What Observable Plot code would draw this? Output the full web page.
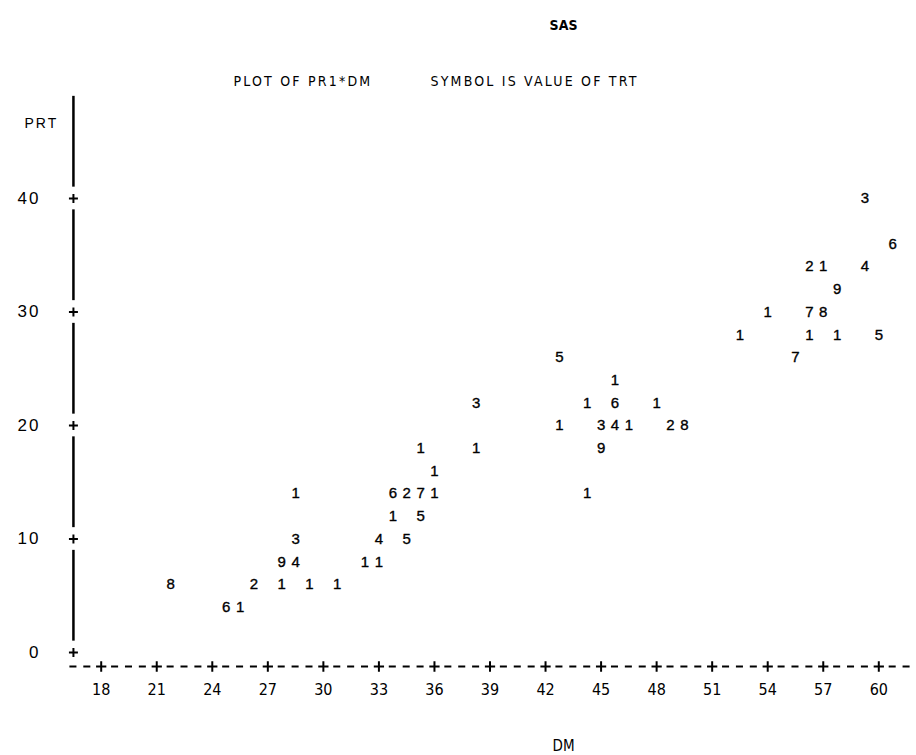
<!DOCTYPE html>
<html>
<head>
<meta charset="utf-8">
<script src="https://cdn.jsdelivr.net/npm/d3@7"></script>
<script src="https://cdn.jsdelivr.net/npm/@observablehq/plot@0.6"></script>
<style>
  html, body { margin: 0; padding: 0; background: #fff; }
  #chart { width: 916px; height: 755px; }
  .spaced text { letter-spacing: 2.2px; }
  .ylabels text { letter-spacing: 2px; }
</style>
</head>
<body>
<div id="chart"></div>
<script>
// Line-printer style plot of PRT against DM; each symbol is the TRT value.
const dm  = [59.25, 60.75, 56.25, 57.0, 59.25, 57.75, 54.0, 56.25, 57.0,
             52.5, 56.25, 57.75, 60.0, 55.5, 42.75, 45.75,
             38.25, 44.25, 45.75, 48.0,
             42.75, 45.0, 45.75, 46.5, 48.75, 49.5,
             35.25, 38.25, 45.0, 36.0,
             28.5, 33.75, 34.5, 35.25, 36.0, 44.25,
             33.75, 35.25, 28.5, 33.0, 34.5,
             27.75, 28.5, 32.25, 33.0,
             21.75, 26.25, 27.75, 29.25, 30.75, 24.75, 25.5];
const prt = [40, 36, 34, 34, 34, 32, 30, 30, 30,
             28, 28, 28, 28, 26, 26, 24,
             22, 22, 22, 22,
             20, 20, 20, 20, 20, 20,
             18, 18, 18, 16,
             14, 14, 14, 14, 14, 14,
             12, 12, 10, 10, 10,
             8, 8, 8, 8,
             6, 6, 6, 6, 6, 4, 4];
const trt = [3, 6, 2, 1, 4, 9, 1, 7, 8,
             1, 1, 1, 5, 7, 5, 1,
             3, 1, 6, 1,
             1, 3, 4, 1, 2, 8,
             1, 1, 9, 1,
             1, 6, 2, 7, 1, 1,
             1, 5, 3, 4, 5,
             9, 4, 1, 1,
             8, 2, 1, 1, 1, 6, 1];

const xTicks = d3.range(18, 61, 3);
const yTicks = [0, 10, 20, 30, 40];
const xLabel = "DM";
const yLabel = "PRT";
const title = "SAS";
const subtitleLeft = "PLOT OF PR1*DM";
const subtitleRight = "SYMBOL IS VALUE OF TRT";

const points = dm.map((d, i) => ({dm: d, prt: prt[i], trt: trt[i]}));

// one print column of the horizontal axis, in DM units
const COL = 0.75;
const axisX = xTicks[0] - 2 * COL;                    // column holding the vertical axis
const axisEnd = xTicks[xTicks.length - 1] + 2 * COL;  // last dash of the horizontal axis
const dashCols = d3.range(0, Math.round((axisEnd - axisX) / COL) + 1)
  .map(k => axisX + k * COL)
  .filter(c => !xTicks.some(t => Math.abs(t - c) < 1e-6));

// vertical axis: solid runs interrupted around each "+"
const GAP = 1.0;
const yTop = 49;
const ySegments = yTicks.map((t, i) => ({
  lo: t + GAP,
  hi: i < yTicks.length - 1 ? yTicks[i + 1] - GAP : yTop
}));

const font = "'Liberation Sans', Arial, sans-serif";
const narrow = "'DejaVu Sans Condensed', 'Liberation Sans Narrow', 'Liberation Sans', sans-serif";
const AXIS_DY = 14;   // horizontal axis sits just below PRT = 0

const chart = Plot.plot({
  width: 916,
  height: 755,
  margin: 0,
  x: {domain: [18, 60], range: [100.7, 878.3], axis: null},
  y: {domain: [0, 40], range: [652, 198], axis: null},
  style: {background: "#fff", color: "#000", fontFamily: font},
  marks: [
    // vertical axis line and its "+" ticks
    Plot.ruleX(ySegments, {x: axisX, y1: "lo", y2: "hi", stroke: "#000", strokeWidth: 2.5}),
    Plot.dot(yTicks, {x: axisX, y: d => d, symbol: "plus", r: 3, stroke: "#000", strokeWidth: 2}),
    Plot.text(yTicks, {x: axisX, y: d => d, dx: -33, text: d => String(d), textAnchor: "end",
      fontSize: 17, fontFamily: font, fill: "#000", className: "ylabels"}),
    // horizontal axis: dashes between "+" ticks
    Plot.ruleY(dashCols, {x1: c => c - 0.19, x2: c => c + 0.19, y: 0, dy: AXIS_DY, stroke: "#000", strokeWidth: 2}),
    Plot.dot(xTicks, {x: d => d, y: 0, dy: AXIS_DY, symbol: "plus", r: 3.4, stroke: "#000", strokeWidth: 2}),
    Plot.text(xTicks, {x: d => d, y: 0, dy: AXIS_DY + 23, text: d => String(d),
      fontSize: 16, fontFamily: narrow, fill: "#000"}),
    // symbols: the TRT value at each (DM, PRT)
    Plot.text(points, {x: "dm", y: "prt", text: d => String(d.trt),
      fontSize: 15, fontFamily: font, fill: "#000", stroke: "#000", strokeWidth: 0.35}),
    // titles and axis names
    Plot.text([title], {frameAnchor: "top-left", dx: 563, dy: 20, text: d => d, textAnchor: "middle",
      fontSize: 14, fontWeight: "bold", fontFamily: narrow, fill: "#000"}),
    Plot.text([subtitleLeft], {frameAnchor: "top-left", dx: 233, dy: 76, text: d => d, textAnchor: "start",
      fontSize: 14, fontFamily: narrow, fill: "#000", className: "spaced"}),
    Plot.text([subtitleRight], {frameAnchor: "top-left", dx: 430, dy: 76, text: d => d, textAnchor: "start",
      fontSize: 14, fontFamily: narrow, fill: "#000", className: "spaced"}),
    Plot.text([yLabel], {frameAnchor: "top-left", dx: 24, dy: 118, text: d => d, textAnchor: "start",
      fontSize: 14, fontFamily: font, fill: "#000", className: "ylabels"}),
    Plot.text([xLabel], {frameAnchor: "top-left", dx: 563, dy: 740, text: d => d, textAnchor: "middle",
      fontSize: 15, fontFamily: narrow, fill: "#000"})
  ]
});

document.getElementById("chart").appendChild(chart);
</script>
</body>
</html>
